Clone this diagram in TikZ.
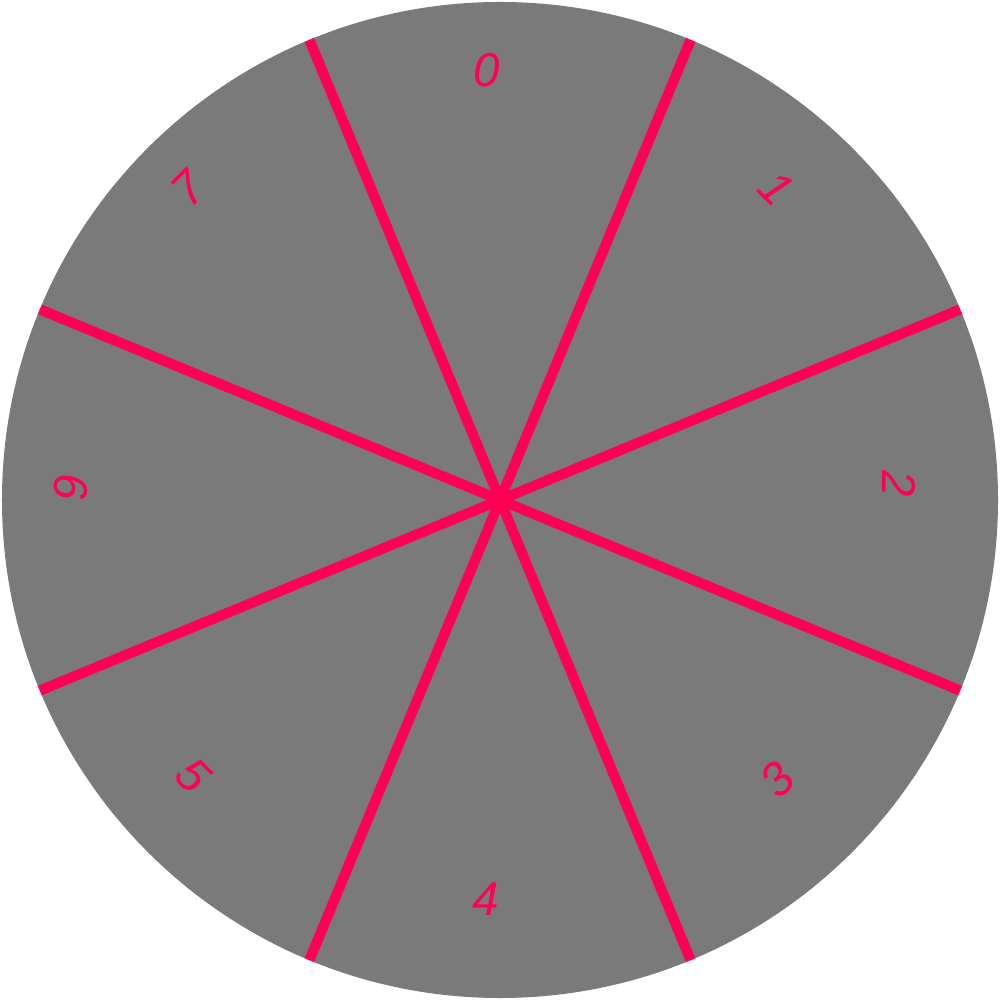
\documentclass[tikz,border=0pt]{standalone}
\usepackage{fontspec}
\setmainfont{Liberation Sans}
\definecolor{wheelgray}{RGB}{122,122,122}
\definecolor{spokepink}{RGB}{255,0,85}
\tikzset{
  spoke/.style={draw=spokepink,line width=2.9pt},
  sectorlabel/.style={text=spokepink,inner sep=0pt,font=\fontsize{13.5}{16}\selectfont\itshape}
}

\begin{document}
\begin{tikzpicture}[scale=1.0]
\useasboundingbox (-5,-5) rectangle (5,5);
\fill[wheelgray] (0,0) circle (4.98);
\draw[spoke] (22.5:4.98) -- (202.5:4.98);
\draw[spoke] (67.5:4.98) -- (247.5:4.98);
\draw[spoke] (112.5:4.98) -- (292.5:4.98);
\draw[spoke] (157.5:4.98) -- (337.5:4.98);
\node[sectorlabel] (s0) at (-0.13,4.30) {0};
\node[sectorlabel,rotate=-45] (s1) at (2.76,3.12) {1};
\node[sectorlabel,rotate=-90] (s2) at (3.99,0.16) {2};
\node[sectorlabel,rotate=45] (s3) at (2.77,-2.80) {3};
\node[sectorlabel] (s4) at (-0.14,-3.99) {4};
\node[sectorlabel,rotate=-45] (s5) at (-3.07,-2.75) {5};
\node[sectorlabel,rotate=-90] (s6) at (-4.29,0.13) {6};
\node[sectorlabel,rotate=45] (s7) at (-3.12,3.11) {7};
\end{tikzpicture}
\end{document}
